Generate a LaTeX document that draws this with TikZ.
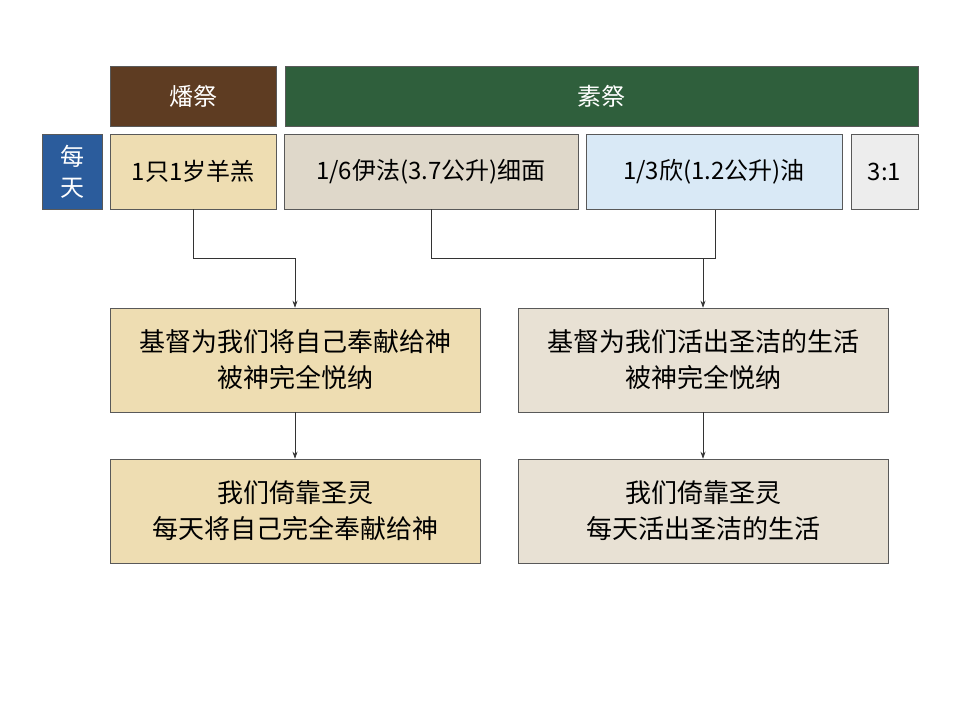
\documentclass[tikz,border=0pt]{standalone}
\usepackage{fontspec}
\setmainfont{Noto Sans CJK SC}
\usetikzlibrary{arrows.meta}
\begin{document}
\begin{tikzpicture}[x=1pt,y=-1pt,
  bx/.style={draw=gray!70!black,line width=0.6pt,font=\fontsize{24}{32}\selectfont,align=center,inner sep=0pt},
  big/.style={font=\fontsize{26}{36}\selectfont},
  ln/.style={draw=black!80,line width=0.7pt},
  ar/.style={ln,-{Stealth[length=7pt,width=5pt]}}]
\useasboundingbox (0,0) rectangle (960,720);
\fill[white] (0,0) rectangle (960,720);
\definecolor{brn}{HTML}{5E3C22}
\definecolor{grn}{HTML}{2F5F3C}
\definecolor{blu}{HTML}{2B5C9C}
\definecolor{bei}{HTML}{EEDDB2}
\definecolor{gbe}{HTML}{DFD8CA}
\definecolor{lbl}{HTML}{D9E9F6}
\definecolor{lgr}{HTML}{EDEDED}
\definecolor{gb2}{HTML}{E8E1D4}
\node[bx,fill=brn,text=white,minimum width=166pt,minimum height=60pt] (h1) at (193,96) {燔祭};
\node[bx,fill=grn,text=white,minimum width=633pt,minimum height=60pt] (h2) at (601.5,96) {素祭};
\node[bx,fill=blu,text=white,minimum width=60pt,minimum height=75pt,font=\fontsize{24}{31}\selectfont] (d) at (72,171.5) {每\\天};
\node[bx,fill=bei,minimum width=166pt,minimum height=75pt] (a1) at (193,171.5) {1只1岁羊羔};
\node[bx,fill=gbe,minimum width=294pt,minimum height=75pt] (a2) at (431,171.5) {1/6伊法(3.7公升)细面};
\node[bx,fill=lbl,minimum width=256pt,minimum height=75pt] (a3) at (714,171.5) {1/3欣(1.2公升)油};
\node[bx,fill=lgr,minimum width=67pt,minimum height=75pt] (a4) at (884.5,171.5) {3:1};
\node[bx,big,fill=bei,minimum width=370pt,minimum height=104pt] (A) at (295,360) {基督为我们将自己奉献给神\\被神完全悦纳};
\node[bx,big,fill=gb2,minimum width=370pt,minimum height=104pt] (B) at (703,360) {基督为我们活出圣洁的生活\\被神完全悦纳};
\node[bx,big,fill=bei,minimum width=370pt,minimum height=104pt] (C) at (295,511) {我们倚靠圣灵\\每天将自己完全奉献给神};
\node[bx,big,fill=gb2,minimum width=370pt,minimum height=104pt] (D) at (703,511) {我们倚靠圣灵\\每天活出圣洁的生活};
\coordinate (j1) at (295,258);
\coordinate (j2) at (703,258);
\draw[ln] (a1.south) |- (j1);
\draw[ar] (j1) -- (A.north);
\draw[ln] (a2.south) |- (715,258) -- (715,209.5);
\draw[ar] (j2) -- (B.north);
\draw[ar] (A.south) -- (C.north);
\draw[ar] (B.south) -- (D.north);
\end{tikzpicture}
\end{document}
